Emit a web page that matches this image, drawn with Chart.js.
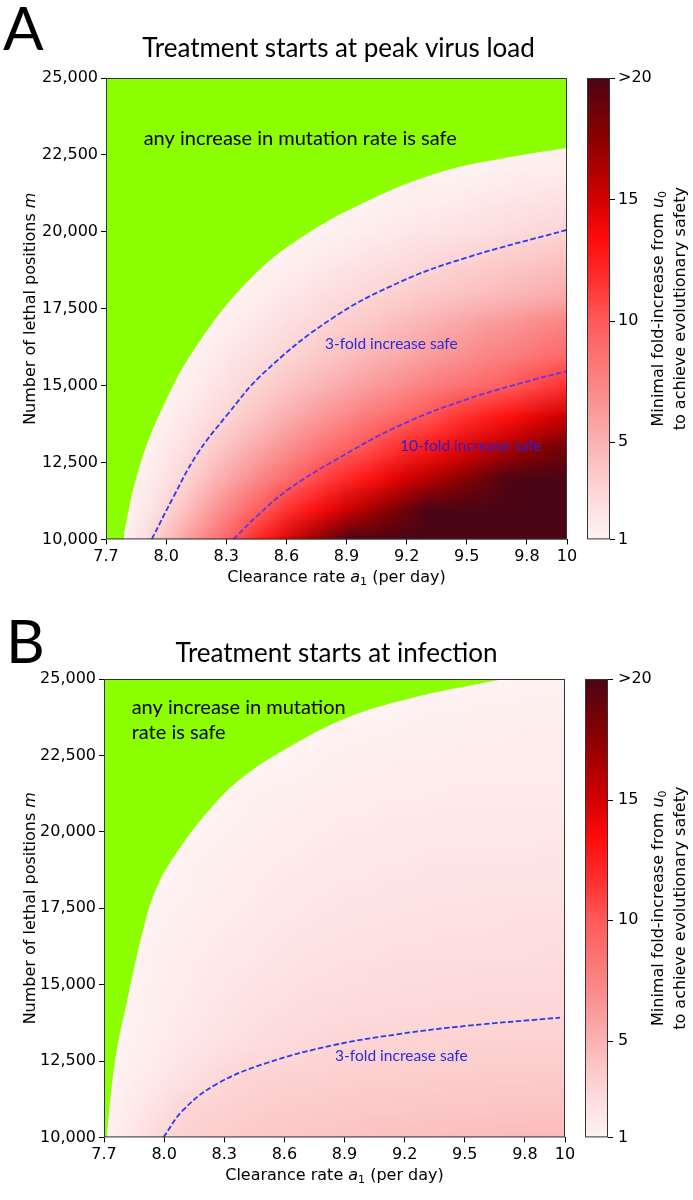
<!DOCTYPE html>
<html>
<head>
<meta charset="utf-8">
<script src="https://cdn.jsdelivr.net/npm/chart.js@4.4.1/dist/chart.umd.min.js"></script>
<style>
  html, body { margin: 0; padding: 0; background: #fff; }
  canvas { display: block; }
</style>
</head>
<body>
<canvas id="chartA" width="693" height="600"></canvas>
<canvas id="chartB" width="693" height="600"></canvas>
<script>
// grid nodes of the heat maps (clearance rate a1 across, lethal positions m up)
const a1Grid = [7.7, 7.8, 7.9, 8.0, 8.1, 8.2, 8.3, 8.4, 8.5, 8.6, 8.7, 8.8, 8.9, 9.0, 9.1, 9.2, 9.3, 9.4, 9.5, 9.6, 9.7, 9.8, 9.9, 10.0];
const mGrid = [10000, 11000, 12000, 13000, 14000, 15000, 16000, 17000, 18000, 19000, 20000, 21000, 22000, 23000, 24000, 25000];

// minimal fold-increase, one row per m (clipped at 20)
const foldA = [
  [1, 1.3, 2.6, 4.2, 5.9, 7.6, 9.3, 11.1, 12.9, 14.6, 16.4, 18.2, 20, 20, 20, 20, 20, 20, 20, 20, 20, 20, 20, 20],
  [1, 1, 1.84, 2.9, 4.3, 5.8, 7.3, 8.8, 10.2, 11.5, 12.7, 13.9, 15.1, 16.3, 17.6, 18.8, 20, 20, 20, 20, 20, 20, 20, 20],
  [1, 1, 1.4, 2.25, 3.1, 4.3, 5.5, 6.6, 7.8, 8.95, 10.1, 11.1, 12.0, 13.0, 14.0, 15.0, 15.9, 16.9, 17.9, 18.8, 19.8, 20, 20, 20],
  [1, 1, 1, 1.7, 2.4, 3.2, 4.1, 5.0, 5.9, 6.8, 7.7, 8.6, 9.5, 10.3, 11.2, 12.0, 12.9, 13.7, 14.5, 15.4, 16.2, 17.1, 17.9, 18.7],
  [1, 1, 1, 1.24, 1.8, 2.4, 3.0, 3.7, 4.4, 5.2, 5.9, 6.6, 7.3, 8.1, 8.8, 9.5, 10.2, 11.0, 11.7, 12.5, 13.2, 14.0, 14.7, 15.4],
  [1, 1, 1, 1, 1.3, 1.8, 2.3, 2.85, 3.4, 3.9, 4.5, 5.0, 5.6, 6.1, 6.6, 7.2, 7.7, 8.3, 8.8, 9.3, 9.9, 10.5, 11.1, 11.7],
  [1, 1, 1, 1, 1, 1.34, 1.8, 2.2, 2.6, 3.04, 3.4, 3.9, 4.3, 4.8, 5.2, 5.6, 6.1, 6.5, 6.9, 7.4, 7.8, 8.2, 8.7, 9.1],
  [1, 1, 1, 1, 1, 1, 1.25, 1.6, 2.0, 2.35, 2.7, 3.1, 3.5, 3.8, 4.2, 4.6, 5.0, 5.4, 5.8, 6.2, 6.5, 6.9, 7.3, 7.7],
  [1, 1, 1, 1, 1, 1, 1, 1.15, 1.45, 1.75, 2.05, 2.35, 2.65, 2.95, 3.2, 3.4, 3.7, 3.9, 4.1, 4.4, 4.6, 4.9, 5.1, 5.3],
  [1, 1, 1, 1, 1, 1, 1, 1, 1, 1.2, 1.45, 1.7, 1.9, 2.15, 2.4, 2.6, 2.85, 3.1, 3.3, 3.5, 3.7, 3.9, 4.1, 4.3],
  [1, 1, 1, 1, 1, 1, 1, 1, 1, 1, 1, 1.13, 1.3, 1.45, 1.6, 1.8, 1.95, 2.1, 2.25, 2.4, 2.6, 2.75, 2.9, 3.05],
  [1, 1, 1, 1, 1, 1, 1, 1, 1, 1, 1, 1, 1, 1, 1.13, 1.25, 1.4, 1.5, 1.65, 1.8, 1.9, 2.05, 2.15, 2.3],
  [1, 1, 1, 1, 1, 1, 1, 1, 1, 1, 1, 1, 1, 1, 1, 1, 1, 1, 1.08, 1.16, 1.25, 1.33, 1.42, 1.5],
  [1, 1, 1, 1, 1, 1, 1, 1, 1, 1, 1, 1, 1, 1, 1, 1, 1, 1, 1, 1, 1, 1, 1, 1],
  [1, 1, 1, 1, 1, 1, 1, 1, 1, 1, 1, 1, 1, 1, 1, 1, 1, 1, 1, 1, 1, 1, 1, 1],
  [1, 1, 1, 1, 1, 1, 1, 1, 1, 1, 1, 1, 1, 1, 1, 1, 1, 1, 1, 1, 1, 1, 1, 1]
];
const foldB = [
  [1, 1.7, 2.35, 3.0, 3.2, 3.35, 3.5, 3.6, 3.7, 3.8, 3.9, 3.95, 4.0, 4.1, 4.15, 4.2, 4.25, 4.3, 4.35, 4.4, 4.42, 4.45, 4.48, 4.5],
  [1, 1.4, 1.9, 2.45, 3.0, 3.15, 3.25, 3.35, 3.45, 3.5, 3.55, 3.6, 3.65, 3.7, 3.75, 3.78, 3.82, 3.85, 3.88, 3.9, 3.93, 3.95, 3.98, 4.0],
  [1, 1.2, 1.5, 1.85, 2.2, 2.55, 2.9, 3.05, 3.15, 3.2, 3.25, 3.3, 3.35, 3.38, 3.41, 3.44, 3.47, 3.5, 3.52, 3.54, 3.56, 3.57, 3.59, 3.6],
  [1, 1.1, 1.3, 1.55, 1.8, 2.0, 2.25, 2.45, 2.6, 2.75, 2.88, 2.97, 3.03, 3.08, 3.12, 3.15, 3.18, 3.2, 3.22, 3.24, 3.26, 3.27, 3.29, 3.3],
  [1, 1, 1.2, 1.4, 1.6, 1.8, 2.0, 2.15, 2.3, 2.42, 2.53, 2.62, 2.7, 2.76, 2.81, 2.85, 2.88, 2.91, 2.93, 2.95, 2.96, 2.97, 2.98, 2.99],
  [1, 1, 1.15, 1.32, 1.5, 1.66, 1.82, 1.96, 2.08, 2.19, 2.28, 2.36, 2.43, 2.49, 2.54, 2.58, 2.62, 2.65, 2.68, 2.7, 2.72, 2.73, 2.74, 2.75],
  [1, 1, 1.1, 1.25, 1.4, 1.54, 1.67, 1.79, 1.9, 2.0, 2.08, 2.15, 2.21, 2.27, 2.32, 2.36, 2.39, 2.42, 2.44, 2.46, 2.47, 2.48, 2.49, 2.5],
  [1, 1, 1, 1.15, 1.28, 1.41, 1.53, 1.64, 1.74, 1.83, 1.91, 1.98, 2.04, 2.09, 2.13, 2.17, 2.2, 2.23, 2.25, 2.27, 2.28, 2.29, 2.3, 2.3],
  [1, 1, 1, 1.05, 1.17, 1.29, 1.4, 1.5, 1.59, 1.67, 1.75, 1.82, 1.87, 1.92, 1.96, 2.0, 2.02, 2.04, 2.06, 2.07, 2.08, 2.09, 2.1, 2.1],
  [1, 1, 1, 1, 1.08, 1.18, 1.28, 1.38, 1.47, 1.55, 1.62, 1.68, 1.73, 1.78, 1.82, 1.85, 1.87, 1.89, 1.9, 1.91, 1.92, 1.93, 1.94, 1.95],
  [1, 1, 1, 1, 1, 1.06, 1.15, 1.24, 1.33, 1.41, 1.48, 1.54, 1.59, 1.63, 1.67, 1.7, 1.72, 1.74, 1.75, 1.76, 1.77, 1.78, 1.79, 1.8],
  [1, 1, 1, 1, 1, 1, 1.03, 1.11, 1.19, 1.27, 1.34, 1.4, 1.45, 1.49, 1.53, 1.56, 1.58, 1.6, 1.61, 1.62, 1.63, 1.64, 1.645, 1.65],
  [1, 1, 1, 1, 1, 1, 1, 1, 1.04, 1.1, 1.17, 1.23, 1.28, 1.32, 1.36, 1.39, 1.42, 1.44, 1.45, 1.46, 1.47, 1.48, 1.49, 1.5],
  [1, 1, 1, 1, 1, 1, 1, 1, 1, 1, 1.01, 1.07, 1.12, 1.17, 1.21, 1.25, 1.28, 1.31, 1.33, 1.35, 1.37, 1.38, 1.39, 1.4],
  [1, 1, 1, 1, 1, 1, 1, 1, 1, 1, 1, 1, 1, 1, 1.03, 1.07, 1.11, 1.14, 1.17, 1.19, 1.21, 1.23, 1.24, 1.25],
  [1, 1, 1, 1, 1, 1, 1, 1, 1, 1, 1, 1, 1, 1, 1, 1, 1, 1, 1, 1, 1, 1.04, 1.07, 1.1]
];

// "any increase is safe" boundary and the dashed contours
const safeA_a1 = [7.783, 7.86, 7.986, 8.169, 8.44, 8.698, 9.031, 9.363, 9.696, 10.0];
const safeA_m = [10000, 12200, 14344, 16461, 18600, 19915, 21082, 21927, 22404, 22722];
const stripA_a1 = [7.7, 7.79];
const stripA_m = [10000, 10000];
const fold3A_a1 = [7.928, 8.036, 8.153, 8.302, 8.485, 8.82, 9.167, 9.5, 10.0];
const fold3A_m = [10000, 11376, 12755, 14027, 15403, 17150, 18368, 19162, 20064];
const fold10A_a1 = [8.335, 8.46, 8.602, 8.834, 9.167, 9.5, 9.832, 10.0];
const fold10A_m = [10000, 10800, 11589, 12542, 13709, 14554, 15190, 15466];

const safeB_a1 = [7.713, 7.755, 7.813, 7.905, 7.965, 8.046, 8.229, 8.395, 8.63, 8.9, 9.21, 9.69];
const safeB_m = [10000, 12500, 14394, 17039, 18200, 19157, 20744, 21802, 22800, 23700, 24341, 25000];
const stripB_a1 = [7.7, 7.716];
const stripB_m = [10000, 10000];
const fold3B_a1 = [7.996, 8.096, 8.262, 8.512, 8.844, 9.177, 9.51, 9.975];
const fold3B_m = [10000, 10902, 11746, 12435, 13016, 13387, 13651, 13918];

const xTicks = [7.7, 8.0, 8.3, 8.6, 8.9, 9.2, 9.5, 9.8, 10.0];
const xTickLabels = ['7.7', '8.0', '8.3', '8.6', '8.9', '9.2', '9.5', '9.8', '10'];
const yTicks = [10000, 12500, 15000, 17500, 20000, 22500, 25000];
const yTickLabels = ['10,000', '12,500', '15,000', '17,500', '20,000', '22,500', '25,000'];
const cbTicks = [1, 5, 10, 15, 20];
const cbTickLabels = ['1', '5', '10', '15', '>20'];

// colour map of the fold-increase (white -> red -> dark red)
const cmapStops = [
    [1, [255, 243, 243]],
    [3, [253, 214, 214]],
    [5, [251, 178, 178]],
    [7, [250, 140, 140]],
    [10, [255, 90, 90]],
    [11.6, [255, 48, 48]],
    [13.4, [255, 12, 12]],
    [15, [210, 0, 0]],
    [17.5, [140, 0, 0]],
    [20, [75, 5, 20]]
];
const GREEN = '#8cff00';
const TICK_FONT = { family: 'DejaVu Sans', size: 16 };
const SANS = '"DejaVu Sans"';
const HEAD = 'Lato';

function colorFor(v) {
    if (v <= cmapStops[0][0]) return cmapStops[0][1];
    for (let i = 1; i < cmapStops.length; i++) {
        const [v1, c1] = cmapStops[i];
        if (v <= v1) {
            const [v0, c0] = cmapStops[i - 1];
            const t = (v - v0) / (v1 - v0);
            return c0.map((c, k) => Math.round(c + (c1[k] - c) * t));
        }
    }
    return cmapStops[cmapStops.length - 1][1];
}

function pts(xs, ys) {
    return xs.map((x, i) => ({ x: x, y: ys[i] }));
}

// draws text made of pieces with their own fonts (italic symbols, subscripts)
function drawParts(ctx, parts, x, y, align) {
    let total = 0;
    parts.forEach(p => {
        ctx.font = p.font;
        p.w = ctx.measureText(p.text).width;
        total += p.w;
    });
    let cx = align === 'center' ? x - total / 2 : x;
    parts.forEach(p => {
        ctx.font = p.font;
        ctx.fillText(p.text, cx, y + (p.dy || 0));
        cx += p.w;
    });
}

function heatmapPlugin(values) {
    return {
        id: 'heatmap',
        beforeDatasetsDraw(chart) {
            const { ctx, chartArea, scales: { x, y } } = chart;
            const cols = a1Grid.length, rows = mGrid.length;
            const off = document.createElement('canvas');
            off.width = cols;
            off.height = rows;
            const octx = off.getContext('2d');
            const img = octx.createImageData(cols, rows);
            for (let r = 0; r < rows; r++) {
                const row = values[rows - 1 - r];
                for (let c = 0; c < cols; c++) {
                    const col = colorFor(row[c]);
                    const k = (r * cols + c) * 4;
                    img.data[k] = col[0];
                    img.data[k + 1] = col[1];
                    img.data[k + 2] = col[2];
                    img.data[k + 3] = 255;
                }
            }
            octx.putImageData(img, 0, 0);

            const dx = x.getPixelForValue(a1Grid[1]) - x.getPixelForValue(a1Grid[0]);
            const dy = y.getPixelForValue(mGrid[0]) - y.getPixelForValue(mGrid[1]);
            const left = x.getPixelForValue(a1Grid[0]) - dx / 2;
            const top = y.getPixelForValue(mGrid[rows - 1]) - dy / 2;
            ctx.save();
            ctx.beginPath();
            ctx.rect(chartArea.left, chartArea.top, chartArea.width, chartArea.height);
            ctx.clip();
            ctx.imageSmoothingEnabled = true;
            ctx.drawImage(off, left, top, dx * cols, dy * rows);
            ctx.restore();
        }
    };
}

function decorPlugin(cfg) {
    return {
        id: 'decor',
        afterDraw(chart) {
            const { ctx, chartArea: a, scales: { x, y, cb } } = chart;
            ctx.save();

            // frame of the plot
            ctx.strokeStyle = '#333';
            ctx.lineWidth = 1;
            ctx.strokeRect(a.left + 0.5, a.top + 0.5, a.width - 1, a.height - 1);

            // colour bar
            const yTop = cb.getPixelForValue(20), yBot = cb.getPixelForValue(1);
            const grad = ctx.createLinearGradient(0, yBot, 0, yTop);
            cmapStops.forEach(([v, c]) => {
                grad.addColorStop((v - 1) / 19, 'rgb(' + c.join(',') + ')');
            });
            ctx.fillStyle = grad;
            ctx.fillRect(cfg.cbLeft, yTop, cfg.cbRight - cfg.cbLeft, yBot - yTop);
            ctx.strokeRect(cfg.cbLeft + 0.5, yTop + 0.5, cfg.cbRight - cfg.cbLeft - 1, yBot - yTop - 1);
            ctx.beginPath();
            cbTicks.forEach(v => {
                const py = Math.round(cb.getPixelForValue(v)) + 0.5;
                ctx.moveTo(cfg.cbRight, py);
                ctx.lineTo(cfg.cbRight + 5, py);
            });
            ctx.strokeStyle = '#000';
            ctx.stroke();

            ctx.fillStyle = '#000';
            ctx.textBaseline = 'alphabetic';
            ctx.textAlign = 'left';

            // panel letter and title
            ctx.font = '60px ' + HEAD;
            ctx.fillText(cfg.letter, cfg.letterX, cfg.letterY);
            ctx.font = '26px ' + HEAD;
            ctx.textAlign = 'center';
            ctx.fillText(cfg.title, (a.left + a.right) / 2 + 2, cfg.titleY);
            ctx.textAlign = 'left';

            // axis titles
            drawParts(ctx, [
                { text: 'Clearance rate ', font: '16px ' + SANS },
                { text: 'a', font: 'italic 16px ' + SANS },
                { text: '1', font: '11px ' + SANS, dy: 3 },
                { text: ' (per day)', font: '16px ' + SANS }
            ], (a.left + a.right) / 2, a.bottom + 43, 'center');

            const midY = (a.top + a.bottom) / 2;
            ctx.save();
            ctx.translate(35, midY);
            ctx.rotate(-Math.PI / 2);
            drawParts(ctx, [
                { text: 'Number of lethal positions ', font: '16px ' + SANS },
                { text: 'm', font: 'italic 16px ' + SANS }
            ], 0, 0, 'center');
            ctx.restore();

            ctx.save();
            ctx.translate(663, midY);
            ctx.rotate(-Math.PI / 2);
            drawParts(ctx, [
                { text: 'Minimal fold-increase from ', font: '16px ' + SANS },
                { text: 'u', font: 'italic 16px ' + SANS },
                { text: '0', font: '11px ' + SANS, dy: 3 }
            ], 0, 0, 'center');
            drawParts(ctx, [
                { text: 'to achieve evolutionary safety', font: '16px ' + SANS }
            ], 0, 22, 'center');
            ctx.restore();

            // notes inside the plot
            cfg.notes.forEach(n => {
                ctx.font = n.font;
                ctx.fillStyle = n.color;
                n.lines.forEach((line, i) => {
                    ctx.fillText(line, x.getPixelForValue(n.a1), y.getPixelForValue(n.m) + i * n.lead);
                });
            });
            ctx.restore();
        }
    };
}

function makePanel(cfg) {
    const datasets = cfg.contours.map(c => ({
        data: pts(c.a1, c.m),
        borderColor: c.color,
        borderWidth: 1.8,
        borderDash: [5.5, 2.5],
        pointRadius: 0,
        fill: false,
        tension: 0.4
    }));
    datasets.push({
        data: pts(cfg.safe[0], cfg.safe[1]),
        borderColor: 'rgba(0,0,0,0)',
        borderWidth: 0,
        backgroundColor: GREEN,
        pointRadius: 0,
        fill: 'end',
        tension: 0.4
    });
    datasets.push({
        data: pts(cfg.strip[0], cfg.strip[1]),
        borderColor: 'rgba(0,0,0,0)',
        borderWidth: 0,
        backgroundColor: GREEN,
        pointRadius: 0,
        fill: 'end'
    });

    return new Chart(document.getElementById(cfg.id), {
        type: 'line',
        data: { datasets: datasets },
        options: {
            responsive: false,
            animation: false,
            events: [],
            layout: { padding: { top: cfg.area.top, left: 0, right: 0, bottom: 0 } },
            plugins: { legend: { display: false }, tooltip: { enabled: false } },
            scales: {
                x: {
                    type: 'linear',
                    min: 7.7,
                    max: 10,
                    afterBuildTicks: s => { s.ticks = xTicks.map(v => ({ value: v })); },
                    afterFit: s => { s.height = 600 - cfg.area.bottom; },
                    ticks: {
                        callback: v => xTickLabels[xTicks.indexOf(v)],
                        font: TICK_FONT,
                        color: '#000',
                        padding: 3,
                        maxRotation: 0,
                        autoSkip: false
                    },
                    grid: { drawOnChartArea: false, tickLength: 5, tickColor: '#000' },
                    border: { display: false }
                },
                y: {
                    type: 'linear',
                    min: 10000,
                    max: 25000,
                    afterBuildTicks: s => { s.ticks = yTicks.map(v => ({ value: v })); },
                    afterFit: s => { s.width = cfg.area.left; },
                    ticks: {
                        callback: v => yTickLabels[yTicks.indexOf(v)],
                        font: TICK_FONT,
                        color: '#000',
                        padding: 3,
                        autoSkip: false
                    },
                    grid: { drawOnChartArea: false, tickLength: 5, tickColor: '#000' },
                    border: { display: false }
                },
                cb: {
                    type: 'linear',
                    position: 'right',
                    min: 1,
                    max: 20,
                    afterBuildTicks: s => { s.ticks = cbTicks.map(v => ({ value: v })); },
                    afterFit: s => { s.width = 693 - cfg.area.right; },
                    ticks: {
                        callback: v => cbTickLabels[cbTicks.indexOf(v)],
                        font: TICK_FONT,
                        color: '#000',
                        padding: cfg.cbLabelX - cfg.area.right,
                        autoSkip: false
                    },
                    grid: { display: false, drawTicks: false },
                    border: { display: false }
                }
            }
        },
        plugins: [heatmapPlugin(cfg.fold), decorPlugin(cfg)]
    });
}

makePanel({
    id: 'chartA',
    letter: 'A',
    letterX: 3,
    letterY: 50,
    title: 'Treatment starts at peak virus load',
    titleY: 57,
    area: { top: 78, left: 106, right: 567, bottom: 550 },
    cbLeft: 587,
    cbRight: 610,
    cbLabelX: 618,
    fold: foldA,
    safe: [safeA_a1, safeA_m],
    strip: [stripA_a1, stripA_m],
    contours: [
        { a1: fold3A_a1, m: fold3A_m, color: '#2a3cf0' },
        { a1: fold10A_a1, m: fold10A_m, color: '#6a34e4' }
    ],
    notes: [
        { lines: ['any increase in mutation rate is safe'], a1: 7.888, m: 22830, lead: 0, font: '20px ' + HEAD, color: '#000' },
        { lines: ['3-fold increase safe'], a1: 8.793, m: 16197, lead: 0, font: '15.5px ' + HEAD, color: '#2b2bdc' },
        { lines: ['10-fold increase safe'], a1: 9.167, m: 12882, lead: 0, font: '15.5px ' + HEAD, color: '#2a22d0' }
    ]
});

makePanel({
    id: 'chartB',
    letter: 'B',
    letterX: 6,
    letterY: 63,
    title: 'Treatment starts at infection',
    titleY: 62,
    area: { top: 79, left: 104, right: 565, bottom: 552 },
    cbLeft: 585,
    cbRight: 608,
    cbLabelX: 618,
    fold: foldB,
    safe: [safeB_a1, safeB_m],
    strip: [stripB_a1, stripB_m],
    contours: [
        { a1: fold3B_a1, m: fold3B_m, color: '#2a3cf0' }
    ],
    notes: [
        { lines: ['any increase in mutation', 'rate is safe'], a1: 7.838, m: 23866, lead: 25, font: '20px ' + HEAD, color: '#000' },
        { lines: ['3-fold increase safe'], a1: 8.853, m: 12489, lead: 0, font: '15.5px ' + HEAD, color: '#2b2bdc' }
    ]
});
</script>
</body>
</html>
